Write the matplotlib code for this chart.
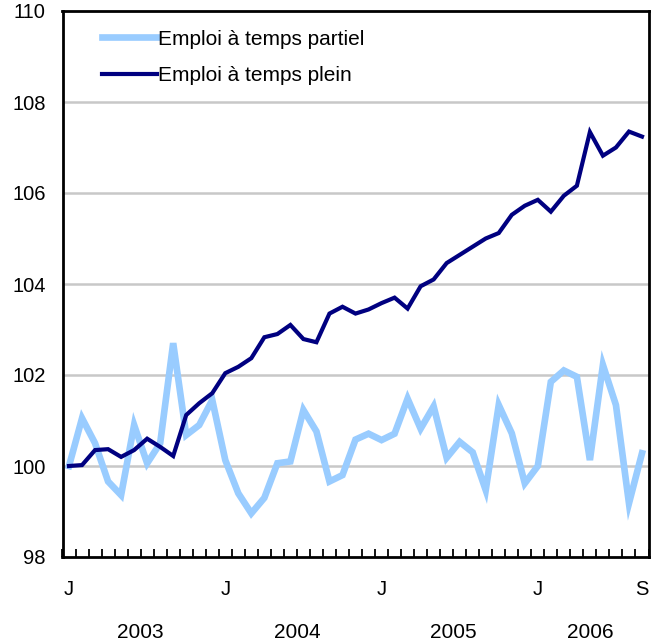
import matplotlib
matplotlib.use("Agg")
import matplotlib.pyplot as plt
import numpy as np

plt.rcParams['font.family'] = ['Liberation Sans', 'DejaVu Sans']

partiel = [100.0, 101.05, 100.5, 99.66, 99.36, 100.9, 100.06, 100.5, 102.7, 100.68,
           100.9, 101.45, 100.13, 99.4, 98.96, 99.3, 100.06, 100.1, 101.23, 100.76,
           99.66, 99.8, 100.58, 100.71, 100.57, 100.71, 101.48, 100.82, 101.31, 100.18,
           100.53, 100.3, 99.47, 101.34, 100.72, 99.62, 100.0, 101.85, 102.1, 101.96,
           100.13, 102.22, 101.34, 99.18, 100.28]
plein = [100.0, 100.02, 100.35, 100.37, 100.2, 100.35, 100.6, 100.42, 100.22, 101.12,
         101.38, 101.6, 102.04, 102.18, 102.37, 102.83, 102.9, 103.1, 102.79, 102.72,
         103.35, 103.5, 103.35, 103.44, 103.58, 103.7, 103.46, 103.95, 104.1, 104.46,
         104.64, 104.82, 105.0, 105.12, 105.52, 105.72, 105.85, 105.59, 105.94, 106.16,
         107.34, 106.82, 107.0, 107.35, 107.24]
month_labels = {0: 'J', 12: 'J', 24: 'J', 36: 'J', 44: 'S'}
years = ['2003', '2004', '2005', '2006']
year_centers = [5.5, 17.5, 29.5, 40.0]
yticks = [98, 100, 102, 104, 106, 108, 110]

fig = plt.figure(figsize=(6.62, 6.44), dpi=100)
ax = fig.add_axes([62.5/662, 1-557/644, 586/662, 546/644])

x = np.arange(len(partiel))
ax.plot(x, partiel, color='#99CCFF', lw=4.8, solid_joinstyle='miter', label='Emploi à temps partiel', zorder=3)
ax.plot(x, plein, color='#000080', lw=3.0, solid_joinstyle='miter', label='Emploi à temps plein', zorder=4)

ax.set_xlim(-0.5, len(partiel) - 0.5)
ax.set_ylim(98, 110)
ax.set_yticks(yticks)
ax.set_yticklabels([str(v) for v in yticks], fontsize=14.5)
ax.tick_params(axis='y', length=0, pad=12)
for v in yticks[1:-1]:
    ax.axhline(v, color='#C8C8C8', lw=1.8, zorder=1)

ax.set_xticks(np.arange(-0.5, len(partiel), 1.0))
ax.set_xticklabels([])
ax.tick_params(axis='x', direction='in', length=6, width=1.3, color='black')
for i, lab in month_labels.items():
    ax.text(i, -0.042, lab, transform=ax.get_xaxis_transform(), ha='center', va='top', fontsize=14.5)
for c, y in zip(year_centers, years):
    ax.text(c, -0.12, y, transform=ax.get_xaxis_transform(), ha='center', va='top', fontsize=15)

for s in ax.spines.values():
    s.set_linewidth(2)
    s.set_color('black')

leg = ax.legend(loc='upper left', bbox_to_anchor=(0.036, 1.0), frameon=False, fontsize=15,
                handlelength=2.6, handletextpad=0.05, labelspacing=0.82)

fig.savefig('out.png', dpi=100)
